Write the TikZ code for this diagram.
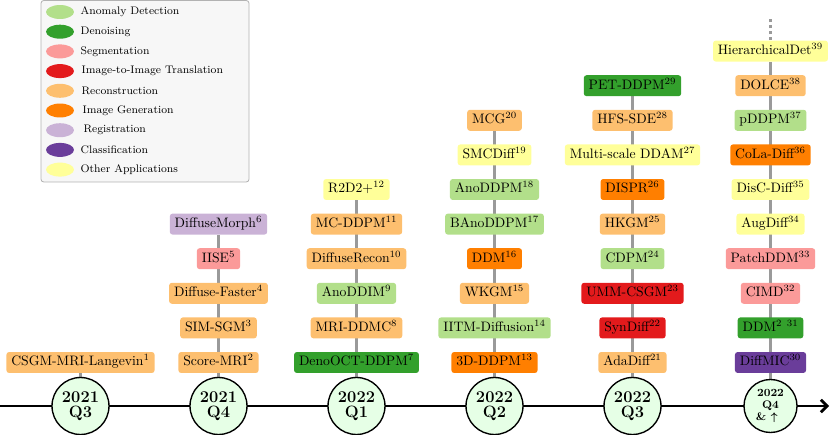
\documentclass[tikz,border=0pt]{standalone}
\usepackage{amsmath,amssymb}
\usepackage{tikz}
\usetikzlibrary{shapes.geometric,arrows.meta,backgrounds}
\definecolor{cAnom}{HTML}{B2DF8A}
\definecolor{cDen}{HTML}{33A02C}
\definecolor{cSeg}{HTML}{FB9A99}
\definecolor{cTrans}{HTML}{E31A1C}
\definecolor{cRec}{HTML}{FDBF6F}
\definecolor{cGen}{HTML}{FF7F00}
\definecolor{cReg}{HTML}{CAB2D6}
\definecolor{cCls}{HTML}{6A3D9A}
\definecolor{cOth}{HTML}{FFFF99}
\definecolor{cQuarter}{HTML}{E6FFE6}
\definecolor{cLink}{HTML}{9A9A9A}

\begin{document}
\begin{tikzpicture}[x=0.73pt,y=-0.73pt,
  paper/.style={rounded corners=2pt,inner xsep=3.6pt,inner ysep=0pt,minimum height=15.3pt,
    text height=7.2pt,text depth=2.2pt,font=\normalsize},
  quarter/.style={circle,draw,line width=1pt,fill=cQuarter,minimum size=41.6pt,inner sep=0pt,
    align=center,font=\large\bfseries},
  link/.style={cLink,line width=2pt},
  legdot/.style={ellipse,minimum width=20.4pt,minimum height=10.2pt,inner sep=0pt},
  legtext/.style={anchor=west,inner sep=1pt,font=\footnotesize}]
\useasboundingbox (0,0) rectangle (831,435);

% legend
\draw [rounded corners=2pt,draw=black!30,fill=black!3,line width=0.6pt] (41,0.5) rectangle (249,182);
\node [legdot,fill=cAnom] (dot1) at (60,12) {};
\node [legtext] (lab1) at (79,12) {Anomaly Detection};
\node [legdot,fill=cDen] (dot2) at (60,31.7) {};
\node [legtext] (lab2) at (79,31.7) {Denoising};
\node [legdot,fill=cSeg] (dot3) at (60,51.4) {};
\node [legtext] (lab3) at (79,51.4) {Segmentation};
\node [legdot,fill=cTrans] (dot4) at (60,71.1) {};
\node [legtext] (lab4) at (80,71.1) {Image-to-Image Translation};
\node [legdot,fill=cRec] (dot5) at (60,90.8) {};
\node [legtext] (lab5) at (80,90.8) {Reconstruction};
\node [legdot,fill=cGen] (dot6) at (60,110.5) {};
\node [legtext] (lab6) at (81,110.5) {Image Generation};
\node [legdot,fill=cReg] (dot7) at (60,130.2) {};
\node [legtext] (lab7) at (82,130.2) {Registration};
\node [legdot,fill=cCls] (dot8) at (60,149.9) {};
\node [legtext] (lab8) at (79,149.9) {Classification};
\node [legdot,fill=cOth] (dot9) at (60,169.6) {};
\node [legtext] (lab9) at (79,169.6) {Other Applications};

% time axis
\coordinate (start) at (0,406);
\coordinate (end) at (829,406);
\draw [line width=2pt,-{Straight Barb[length=4.5pt,width=9pt]}] (start) -- (end);

\node [quarter] (q1) at (80.5,406) {2021\\[-3pt]Q3};
\node [quarter] (q2) at (218.5,406) {2021\\[-3pt]Q4};
\node [quarter] (q3) at (356.5,406) {2022\\[-3pt]Q1};
\node [quarter] (q4) at (494.5,406) {2022\\[-3pt]Q2};
\node [quarter] (q5) at (632.5,406) {2022\\[-3pt]Q3};
\node [quarter,minimum size=38.7pt,font=\footnotesize\bfseries] (q6) at (770.5,406) {2022\\[-1pt]Q4\\[-1pt]\& $\boldsymbol\uparrow$};

% 2021 Q3
\node [paper,fill=cRec] (p1) at (80.5,362.5) {CSGM-MRI-Langevin$^{1}$};

% 2021 Q4
\node [paper,fill=cRec] (p2) at (218.5,362.5) {Score-MRI$^{2}$};
\node [paper,fill=cRec] (p3) at (218.5,327.9) {SIM-SGM$^{3}$};
\node [paper,fill=cRec] (p4) at (218.5,293.3) {Diffuse-Faster$^{4}$};
\node [paper,fill=cSeg] (p5) at (218.5,258.7) {IISE$^{5}$};
\node [paper,fill=cReg] (p6) at (218.5,224.1) {DiffuseMorph$^{6}$};

% 2022 Q1
\node [paper,fill=cDen] (p7) at (356.5,362.5) {DenoOCT-DDPM$^{7}$};
\node [paper,fill=cRec] (p8) at (356.5,327.9) {MRI-DDMC$^{8}$};
\node [paper,fill=cAnom] (p9) at (356.5,293.3) {AnoDDIM$^{9}$};
\node [paper,fill=cRec] (p10) at (356.5,258.7) {DiffuseRecon$^{10}$};
\node [paper,fill=cRec] (p11) at (356.5,224.1) {MC-DDPM$^{11}$};
\node [paper,fill=cOth] (p12) at (356.5,189.5) {R2D2+$^{12}$};

% 2022 Q2
\node [paper,fill=cGen] (p13) at (494.5,362.5) {3D-DDPM$^{13}$};
\node [paper,fill=cAnom] (p14) at (494.5,327.9) {IITM-Diffusion$^{14}$};
\node [paper,fill=cRec] (p15) at (494.5,293.3) {WKGM$^{15}$};
\node [paper,fill=cGen] (p16) at (494.5,258.7) {DDM$^{16}$};
\node [paper,fill=cAnom] (p17) at (494.5,224.1) {BAnoDDPM$^{17}$};
\node [paper,fill=cAnom] (p18) at (494.5,189.5) {AnoDDPM$^{18}$};
\node [paper,fill=cOth] (p19) at (494.5,154.9) {SMCDiff$^{19}$};
\node [paper,fill=cRec] (p20) at (494.5,120.3) {MCG$^{20}$};

% 2022 Q3
\node [paper,fill=cRec] (p21) at (632.5,362.5) {AdaDiff$^{21}$};
\node [paper,fill=cTrans] (p22) at (632.5,327.9) {SynDiff$^{22}$};
\node [paper,fill=cTrans] (p23) at (632.5,293.3) {UMM-CSGM$^{23}$};
\node [paper,fill=cAnom] (p24) at (632.5,258.7) {CDPM$^{24}$};
\node [paper,fill=cRec] (p25) at (632.5,224.1) {HKGM$^{25}$};
\node [paper,fill=cGen] (p26) at (632.5,189.5) {DISPR$^{26}$};
\node [paper,fill=cOth] (p27) at (632.5,154.9) {Multi-scale DDAM$^{27}$};
\node [paper,fill=cRec] (p28) at (632.5,120.3) {HFS-SDE$^{28}$};
\node [paper,fill=cDen] (p29) at (632.5,85.7) {PET-DDPM$^{29}$};

% 2022 Q4 and later
\node [paper,fill=cCls] (p30) at (770.5,362.5) {DiffMIC$^{30}$};
\node [paper,fill=cDen] (p31) at (770.5,327.9) {DDM$^{2}$ $^{31}$};
\node [paper,fill=cSeg] (p32) at (770.5,293.3) {CIMD$^{32}$};
\node [paper,fill=cSeg] (p33) at (770.5,258.7) {PatchDDM$^{33}$};
\node [paper,fill=cOth] (p34) at (770.5,224.1) {AugDiff$^{34}$};
\node [paper,fill=cOth] (p35) at (770.5,189.5) {DisC-Diff$^{35}$};
\node [paper,fill=cGen] (p36) at (770.5,154.9) {CoLa-Diff$^{36}$};
\node [paper,fill=cAnom] (p37) at (770.5,120.3) {pDDPM$^{37}$};
\node [paper,fill=cRec] (p38) at (770.5,85.7) {DOLCE$^{38}$};
\node [paper,fill=cOth] (p39) at (770.5,51.1) {HierarchicalDet$^{39}$};
\coordinate (more) at (770.5,19);

\begin{scope}[on background layer]
\draw [link] (q1) -- (p1);
\draw [link] (q2) -- (p6);
\draw [link] (q3) -- (p12);
\draw [link] (q4) -- (p20);
\draw [link] (q5) -- (p29);
\draw [link] (q6) -- (p39);
\draw [link,dash pattern=on 2.2pt off 2.2pt] (p39) -- (more);
\end{scope}
\end{tikzpicture}
\end{document}
